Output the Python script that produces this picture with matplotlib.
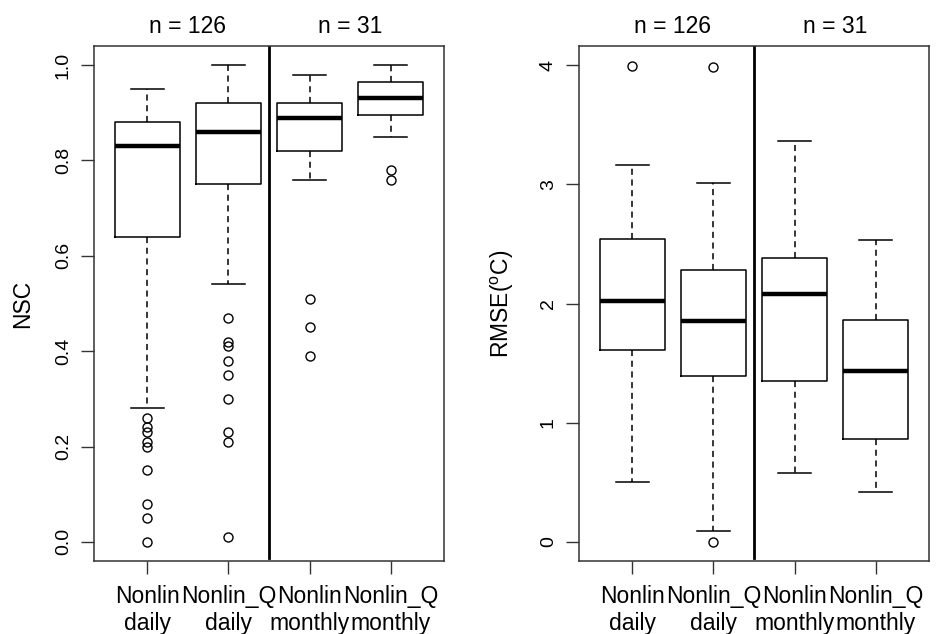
import numpy as np
import matplotlib
matplotlib.use('Agg')
import matplotlib.pyplot as plt
import matplotlib.transforms as mtransforms

plt.rcParams['font.family'] = ['Liberation Sans', 'DejaVu Sans']
plt.rcParams['mathtext.fontset'] = 'custom'
plt.rcParams['mathtext.rm'] = 'Liberation Sans'

#%% Data
groups      = ['Nonlin\ndaily', 'Nonlin_Q\ndaily', 'Nonlin\nmonthly', 'Nonlin_Q\nmonthly']
n_labels    = ['n = 126', 'n = 31']

nsc_whislo  = [0.28, 0.54, 0.76, 0.85]
nsc_q1      = [0.64, 0.75, 0.82, 0.895]
nsc_med     = [0.83, 0.86, 0.89, 0.93]
nsc_q3      = [0.88, 0.92, 0.92, 0.965]
nsc_whishi  = [0.95, 1.00, 0.98, 1.00]
nsc_fliers  = [[0.26, 0.24, 0.23, 0.21, 0.20, 0.15, 0.08, 0.05, 0.00],
               [0.47, 0.42, 0.41, 0.38, 0.35, 0.30, 0.23, 0.21, 0.01],
               [0.51, 0.45, 0.39],
               [0.78, 0.76]]

rmse_whislo = [0.50, 0.09, 0.58, 0.42]
rmse_q1     = [1.61, 1.39, 1.35, 0.86]
rmse_med    = [2.02, 1.85, 2.08, 1.43]
rmse_q3     = [2.54, 2.28, 2.38, 1.86]
rmse_whishi = [3.16, 3.01, 3.36, 2.53]
rmse_fliers = [[3.99], [3.98, 0.00], [], []]

nsc_ticks   = [0.0, 0.2, 0.4, 0.6, 0.8, 1.0]
rmse_ticks  = [0, 1, 2, 3, 4]


#%% Helpers
def make_stats(whislo, q1, med, q3, whishi, fliers):
    "build bxp stats list"
    stats = []
    for i in range(len(med)):
        stats.append({'whislo': whislo[i], 'q1': q1[i], 'med': med[i],
                      'q3': q3[i], 'whishi': whishi[i],
                      'fliers': np.array(fliers[i])})
    return stats


def draw_panel(ax, stats, ylim, yticks, ytick_fmt, ylabel, ylabel_x):
    pos = np.arange(1, len(stats) + 1)
    ax.bxp(stats, positions=pos, widths=0.8, capwidths=0.4,
           boxprops=dict(color='black', lw=1.1),
           whiskerprops=dict(color='black', lw=1.1, linestyle=(0, (4, 3))),
           capprops=dict(color='black', lw=1.1),
           medianprops=dict(color='black', lw=3.2, solid_capstyle='butt'),
           flierprops=dict(marker='o', markersize=6.5, markerfacecolor='none',
                           markeredgecolor='black', markeredgewidth=1.0))
    ax.axvline(2.5, ymin=0.006, color='black', lw=2)

    ax.set_xlim(0.34, 4.66)
    ax.set_ylim(*ylim)
    ax.set_xticks(pos)
    ax.set_xticklabels(groups, fontsize=16.5, linespacing=1.22)
    ax.set_yticks(yticks)
    ax.set_yticklabels([ytick_fmt % t for t in yticks], fontsize=14,
                       rotation=90, va='center')
    ax.tick_params(axis='y', length=9.4, width=1, color='#333333', pad=6.5)
    ax.tick_params(axis='x', length=9, width=1, color='#333333', pad=8.5)
    for sp in ax.spines.values():
        sp.set_color('#333333')
        sp.set_linewidth(1.1)

    ax.text(ylabel_x, 0.5, ylabel, transform=ax.transAxes, rotation=90,
            ha='center', va='center', fontsize=16.5)

    trans = mtransforms.blended_transform_factory(ax.transData, ax.transAxes)
    for x, txt in zip([1.5, 3.5], n_labels):
        ax.annotate(txt, xy=(x, 1.0), xycoords=trans, xytext=(0, 9.5),
                    textcoords='offset points', ha='center', va='baseline',
                    fontsize=16.5)


#%% Figure
fig = plt.figure(figsize=(9.39, 6.34), dpi=100)
ax1 = fig.add_axes([94/939, 73/634, 350/939, 515/634])
ax2 = fig.add_axes([579/939, 73/634, 350/939, 515/634])

draw_panel(ax1, make_stats(nsc_whislo, nsc_q1, nsc_med, nsc_q3, nsc_whishi, nsc_fliers),
           (-0.04, 1.04), nsc_ticks, '%.1f', 'NSC', -0.205)
draw_panel(ax2, make_stats(rmse_whislo, rmse_q1, rmse_med, rmse_q3, rmse_whishi, rmse_fliers),
           (-0.16, 4.16), rmse_ticks, '%d', r'RMSE($^{\mathrm{o}}$C)', -0.22)

fig.savefig('out.png', dpi=100)
